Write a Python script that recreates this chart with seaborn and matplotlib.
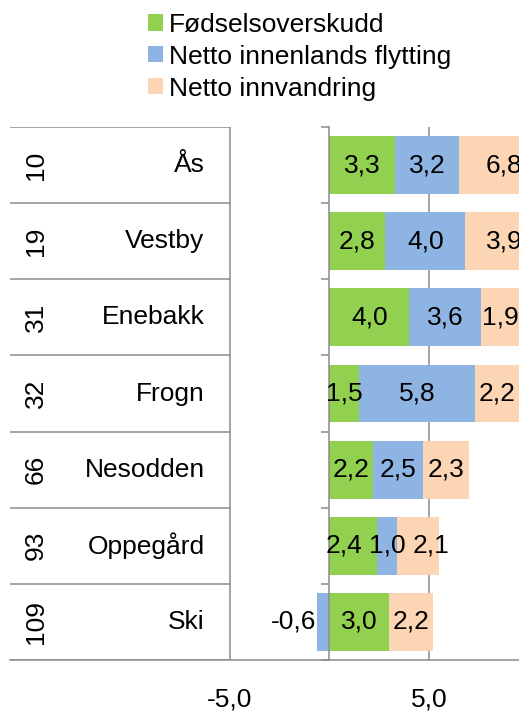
import matplotlib.pyplot as plt
import pandas as pd
import seaborn as sns

kommuner = ['Ås', 'Vestby', 'Enebakk', 'Frogn', 'Nesodden', 'Oppegård', 'Ski']
rangering = [10, 19, 31, 32, 66, 93, 109]
fodselsoverskudd = [3.3, 2.8, 4.0, 1.5, 2.2, 2.4, 3.0]
innenlands = [3.2, 4.0, 3.6, 5.8, 2.5, 1.0, -0.6]
innvandring = [6.8, 3.9, 1.9, 2.2, 2.3, 2.1, 2.2]

serier = ['Fødselsoverskudd', 'Netto innenlands flytting', 'Netto innvandring']
farger = ['#92D050', '#8DB4E2', '#FCD5B4']
x_ticks = [-5, 5]

GRAA = '#8C8C8C'
X_MIN, X_MAX = -16, 11

sns.set_style('white')
plt.rcParams['font.family'] = ['Liberation Sans', 'DejaVu Sans']
plt.rcParams['font.size'] = 19
plt.rcParams['text.color'] = 'black'
plt.rcParams['xtick.labelcolor'] = 'black'

df = pd.DataFrame({
    'kommune': kommuner,
    serier[0]: fodselsoverskudd,
    serier[1]: innenlands,
    serier[2]: innvandring,
})

# startpunkt for hver del av stolpen (negative verdier går fra 0 og mot venstre)
start_gronn = [0.0] * len(kommuner)
start_blaa = [g if b >= 0 else 0.0 for g, b in zip(fodselsoverskudd, innenlands)]
start_oransje = [g + max(b, 0) for g, b in zip(fodselsoverskudd, innenlands)]
starter = [start_gronn, start_blaa, start_oransje]

fig = plt.figure(figsize=(5.19, 7.13), dpi=100)
ax = fig.add_axes([10 / 519, 53 / 713, 539 / 519, 533 / 713])

for serie, farge, start in zip(serier, farger, starter):
    sns.barplot(data=df, y='kommune', x=serie, orient='h', color=farge,
                saturation=1, width=0.76, errorbar=None, left=start,
                linewidth=0, label=serie, ax=ax)

if ax.get_legend() is not None:
    ax.get_legend().remove()

ax.set_xlim(X_MIN, X_MAX)
ax.set_ylim(len(kommuner) - 0.5, -0.5)
ax.set_xlabel('')
ax.set_ylabel('')

# verdietiketter
etiketter = {i: [] for i in range(len(kommuner))}
for serie, start in zip(serier, starter):
    for i, (verdi, s) in enumerate(zip(df[serie], start)):
        tekst = f'{verdi:.1f}'.replace('.', ',')
        if verdi < 0:
            t = ax.text(s + verdi - 0.05, i, tekst, ha='right', va='center')
        else:
            a, b = max(s, X_MIN), min(s + verdi, X_MAX)
            t = ax.text((a + b) / 2, i, tekst, ha='center', va='center')
        etiketter[i].append(t)

# skyv etiketter fra hverandre der de overlapper (som Excel gjør)
fig.canvas.draw()
renderer = fig.canvas.get_renderer()
px_per_enhet = ax.transData.transform((1, 0))[0] - ax.transData.transform((0, 0))[0]
min_avstand = 7
for i, rad in etiketter.items():
    rad = sorted(rad, key=lambda t: t.get_window_extent(renderer).x0)
    for j in range(1, len(rad)):
        forrige = rad[j - 1].get_window_extent(renderer)
        denne = rad[j].get_window_extent(renderer)
        overlapp = forrige.x1 + min_avstand - denne.x0
        if overlapp > 0:
            flytt = rad[j - 1] if j == 1 else rad[j]
            retning = -1 if j == 1 else 1
            x, y = flytt.get_position()
            flytt.set_position((x + retning * overlapp / px_per_enhet, y))

# tabell til venstre
grenser = [i - 0.5 for i in range(len(kommuner) + 1)]
ax.hlines(grenser, X_MIN, -5, colors=GRAA, linewidth=1.1)
for i, (navn, rang) in enumerate(zip(kommuner, rangering)):
    ax.text(-14.7, i, str(rang), rotation=90, ha='center', va='center')
    ax.text(-6.25, i, navn, ha='right', va='center')

# akser
ax.set_xticks(x_ticks)
ax.set_xticklabels([f'{v:.1f}'.replace('.', ',') for v in x_ticks])
ax.set_yticks(grenser)
ax.set_yticklabels([])
ax.tick_params(axis='x', direction='out', length=5, width=1.1, color=GRAA, pad=15)
ax.tick_params(axis='y', direction='out', length=6, width=1.1, color=GRAA, left=True)
ax.grid(True, axis='x', color=GRAA, linewidth=1.1)
ax.grid(False, axis='y')
ax.set_axisbelow(True)
ax.spines['left'].set_position(('data', 0))
ax.spines['left'].set_color(GRAA)
ax.spines['left'].set_linewidth(1.1)
ax.spines['bottom'].set_color(GRAA)
ax.spines['bottom'].set_linewidth(1.1)
ax.spines['top'].set_visible(False)
ax.spines['right'].set_visible(False)

handles, labels = ax.get_legend_handles_labels()
fig.legend(handles, labels, loc='upper left', bbox_to_anchor=(148 / 519, 0.982),
           frameon=False, borderpad=0, borderaxespad=0, handlelength=0.56,
           handleheight=0.56, handletextpad=0.24, labelspacing=0.3)

fig.savefig('out.png', dpi=100)
